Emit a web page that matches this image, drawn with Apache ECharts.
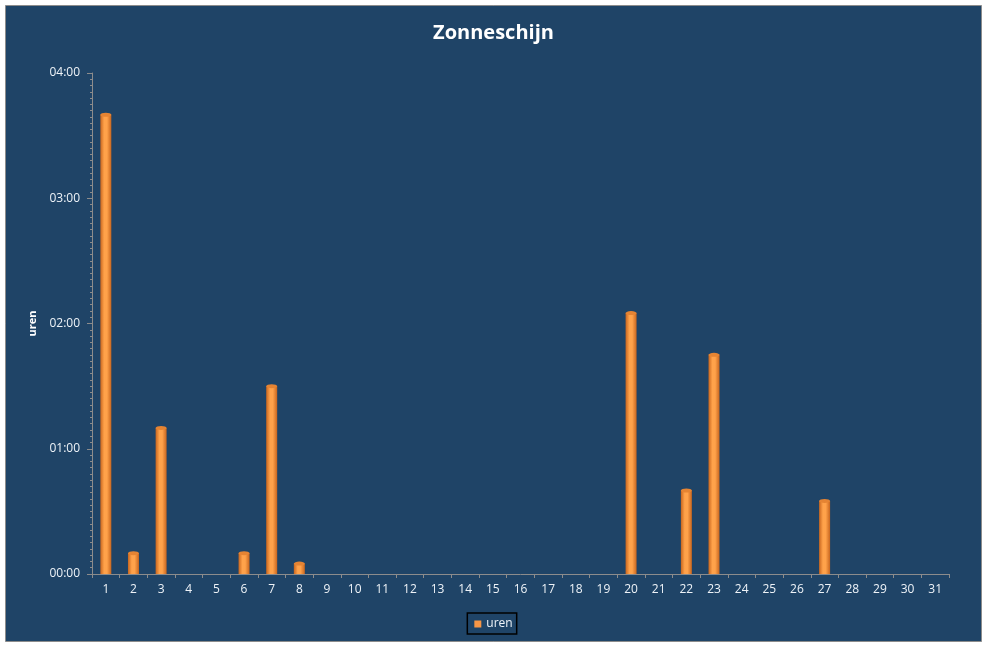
<!DOCTYPE html>
<html>
<head>
<meta charset="utf-8">
<script src="https://cdn.jsdelivr.net/npm/echarts@6/dist/echarts.min.js"></script>
<style>
  html, body { margin: 0; padding: 0; background: #fff; }
  #chart { width: 987px; height: 648px; }
</style>
</head>
<body>
<div id="chart"></div>
<script>
// days of the month
const days = Array.from({ length: 31 }, (_, i) => String(i + 1));
// sunshine per day, in minutes
const sunMinutes = [220, 10, 70, 0, 0, 10, 90, 5, 0, 0, 0, 0, 0, 0, 0, 0, 0, 0, 0, 125,
                    0, 40, 105, 0, 0, 0, 35, 0, 0, 0, 0];

const bgBlue = '#1f4467';
const axisGrey = '#8c8c8c';
const textCol = '#eef3f8';

function hhmm(v) {
    const h = Math.floor(v / 60), m = Math.round(v % 60);
    return String(h).padStart(2, '0') + ':' + String(m).padStart(2, '0');
}

const chart = echarts.init(document.getElementById('chart'));
chart.setOption({
    backgroundColor: '#fff',
    animation: false,
    graphic: [{
        type: 'rect', z: -10, silent: true,
        shape: { x: 5.5, y: 5.5, width: 976, height: 636 },
        style: { fill: bgBlue, stroke: axisGrey, lineWidth: 1 }
    }],
    title: {
        text: 'Zonneschijn', left: 'center', top: 18,
        textStyle: { color: '#fff', fontSize: 20, fontWeight: 'bold', fontFamily: 'Open Sans' }
    },
    legend: {
        data: [{ name: 'uren', icon: 'rect', itemStyle: { color: '#f79646' } }],
        bottom: 14, left: 'center',
        itemWidth: 7, itemHeight: 7, itemGap: 6,
        padding: [5, 4, 4, 7],
        borderColor: '#000', borderWidth: 1.5,
        textStyle: { color: textCol, fontSize: 12, fontFamily: 'Open Sans' }
    },
    grid: { left: 92, right: 38, top: 73, bottom: 74 },
    xAxis: {
        type: 'category', data: days,
        axisLine: { lineStyle: { color: axisGrey } },
        axisTick: { show: true, length: 4, lineStyle: { color: axisGrey } },
        axisLabel: { color: textCol, fontSize: 12, margin: 10, fontFamily: 'Open Sans' }
    },
    yAxis: {
        type: 'value', min: 0, max: 240, interval: 60,
        name: 'uren', nameLocation: 'middle', nameRotate: 90, nameGap: 49,
        nameTextStyle: { color: '#fff', fontSize: 11, fontWeight: 'bold', fontFamily: 'Open Sans' },
        axisLine: { show: true, lineStyle: { color: axisGrey } },
        axisTick: { show: true, length: 5, lineStyle: { color: axisGrey } },
        minorTick: { show: true, splitNumber: 20, length: 2, lineStyle: { color: axisGrey } },
        splitLine: { show: false },
        axisLabel: { color: textCol, fontSize: 12, margin: 12, fontFamily: 'Open Sans', formatter: hhmm }
    },
    series: [{
        name: 'uren', type: 'bar', data: sunMinutes, barWidth: 11,
        itemStyle: {
            color: new echarts.graphic.LinearGradient(0, 0, 1, 0, [
                { offset: 0, color: '#c8661f' },
                { offset: 0.35, color: '#ffa24a' },
                { offset: 0.6, color: '#ffa24a' },
                { offset: 1, color: '#c8661f' }
            ])
        }
    }, {
        // cylinder caps
        name: 'cap', type: 'pictorialBar', data: sunMinutes.map(v => v > 0 ? v : null),
        symbol: 'circle', symbolSize: [11, 4], symbolPosition: 'end', symbolOffset: [0, '-50%'],
        itemStyle: { color: '#e58433' }, z: 3, legendHoverLink: false
    }]
});
</script>
</body>
</html>
